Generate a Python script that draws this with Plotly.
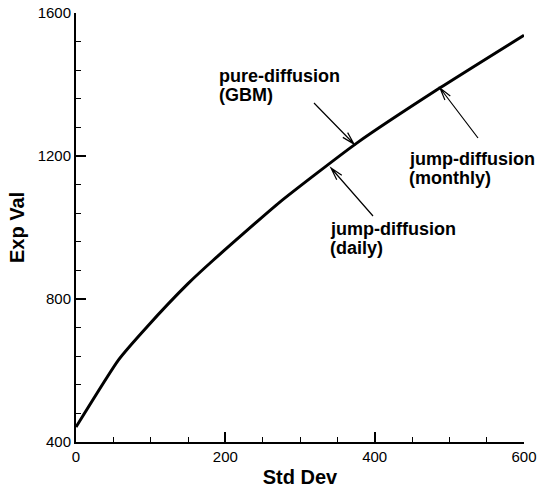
import math
import plotly.graph_objects as go

# Expected value vs. standard deviation (efficient frontier)
std_dev = [0, 57, 95, 150, 183, 273, 376, 487, 600]
exp_val = [442, 630, 722, 843, 907, 1071, 1236, 1390, 1538]

x_ticks = [0, 200, 400, 600]
y_ticks = [400, 800, 1200, 1600]

W, H = 538, 493
L, R, T, B = 76, 14, 13, 51
X0, X1 = 0, 600
Y0, Y1 = 400, 1600
PW, PH = W - L - R, H - T - B


def px2x(px):
    return X0 + (px - L) / PW * (X1 - X0)


def py2y(py):
    return Y0 + (H - B - py) / PH * (Y1 - Y0)


fig = go.Figure()
fig.add_trace(go.Scatter(
    x=std_dev, y=exp_val, mode="lines",
    line=dict(color="black", width=3, shape="spline", smoothing=0.5),
    showlegend=False, hoverinfo="skip",
))

# labelled arrows: (text lines, text-left px, text-top px, tail px, head px)
callouts = [
    (["pure-diffusion", "(GBM)"], 218, 65, (314, 103), (354, 144)),
    (["jump-diffusion", "(daily)"], 329, 218, (373, 216), (331, 168)),
    (["jump-diffusion", "(monthly)"], 408, 148, (478, 138), (440, 88)),
]
LINE_GAP = 19

shapes = []
annotations = []
for lines, tx, ty, tail, head in callouts:
    for i, line in enumerate(lines):
        annotations.append(dict(
            x=px2x(tx), y=py2y(ty + i * LINE_GAP), xref="x", yref="y",
            xanchor="left", yanchor="top", align="left",
            text=f"<b>{line}</b>", showarrow=False,
            font=dict(family="Liberation Sans, Arial", size=18, color="black"),
            borderpad=0,
        ))
    dx, dy = tail[0] - head[0], tail[1] - head[1]
    n = math.hypot(dx, dy)
    ux, uy = dx / n, dy / n
    pts = []
    for sgn in (1, -1):
        a = math.radians(15) * sgn
        rx = ux * math.cos(a) - uy * math.sin(a)
        ry = ux * math.sin(a) + uy * math.cos(a)
        pts.append((head[0] + 13 * rx, head[1] + 13 * ry))
    path = (f"M {px2x(tail[0])},{py2y(tail[1])} L {px2x(head[0])},{py2y(head[1])} "
            f"M {px2x(pts[0][0])},{py2y(pts[0][1])} L {px2x(head[0])},{py2y(head[1])} "
            f"L {px2x(pts[1][0])},{py2y(pts[1][1])}")
    shapes.append(dict(type="path", xref="x", yref="y", path=path,
                       line=dict(color="black", width=1.2)))

tick_font = dict(family="Liberation Sans, Arial", size=15, color="black")
title_font = dict(family="Liberation Sans, Arial", size=20, color="black")

fig.update_layout(
    width=W, height=H,
    margin=dict(l=L, r=R, t=T, b=B),
    paper_bgcolor="white", plot_bgcolor="white",
    shapes=shapes, annotations=annotations,
    xaxis=dict(
        range=[X0, X1], tickvals=x_ticks, ticktext=[str(v) for v in x_ticks],
        showgrid=False, zeroline=False, showline=True, linecolor="black", linewidth=2,
        ticks="inside", ticklen=10, tickwidth=2, tickcolor="black",
        minor=dict(dtick=50, ticks="inside", ticklen=5, tickwidth=1, tickcolor="black"),
        tickfont=tick_font,
        title=dict(text="<b>Std Dev</b>", font=title_font, standoff=6),
        automargin=False,
    ),
    yaxis=dict(
        range=[Y0, Y1], tickvals=y_ticks, ticktext=[str(v) for v in y_ticks],
        showgrid=False, zeroline=False, showline=True, linecolor="black", linewidth=2,
        ticks="inside", ticklen=10, tickwidth=2, tickcolor="black",
        minor=dict(dtick=80, ticks="inside", ticklen=5, tickwidth=1, tickcolor="black"),
        tickfont=tick_font,
        title=dict(text="<b>Exp Val</b>", font=title_font, standoff=8),
        automargin=False,
    ),
)

fig.write_html("out.html")
